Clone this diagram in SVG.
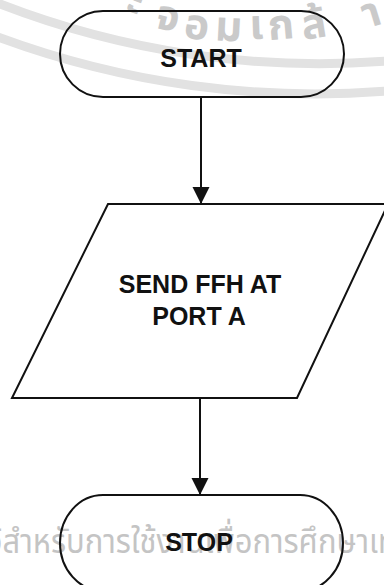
<svg xmlns="http://www.w3.org/2000/svg" width="384" height="585" viewBox="0 0 384 585">
  <style>
    .shape { fill: none; stroke: #111; stroke-width: 2; }
    .label { font-family: "Liberation Sans", Arial, sans-serif; font-weight: bold; font-size: 25px; fill: #111; text-anchor: middle; }
    .conn { stroke: #111; stroke-width: 2; fill: none; }
    .wm-band { fill: none; stroke: #e2e2e2; stroke-width: 9; }
    .wm-text { font-family: "Noto Sans Thai", "Noto Sans", "DejaVu Sans", sans-serif; fill: #c4c4c4; }
    .wm-top { font-family: "Noto Sans Thai", "Noto Sans", "DejaVu Sans", sans-serif; fill: #cacaca; font-size: 42px; font-weight: bold; text-anchor: middle; }
  </style>
  <defs>
    <marker id="arrow" markerUnits="userSpaceOnUse" markerWidth="18" markerHeight="18" refX="17" refY="8.5" orient="auto">
      <path d="M0,0 L17,8.5 L0,17 Z" fill="#111"/>
    </marker>
  </defs>
  <rect width="384" height="585" fill="#ffffff"/>

  <g id="watermark">
    <path class="wm-band" d="M-10,0 A883,883 0 0 0 400,60"/>
    <path class="wm-band" d="M-10,34 A913,913 0 0 0 400,90"/>
    <text class="wm-top" x="131" y="14" transform="rotate(20 131 14)">ะ</text>
    <text class="wm-top" x="165" y="30" transform="rotate(14 165 30)">จ</text>
    <text class="wm-top" x="195" y="39" transform="rotate(8 195 39)">อ</text>
    <text class="wm-top" x="228" y="41" transform="rotate(3 228 41)">ม</text>
    <text class="wm-top" x="257" y="39" transform="rotate(-2 257 39)">เ</text>
    <text class="wm-top" x="282" y="39" transform="rotate(-5 282 39)">ก</text>
    <text class="wm-top" x="316" y="38" transform="rotate(-9 316 38)">ล้</text>
    <text class="wm-top" x="375" y="26" transform="rotate(-17 375 26)">า</text>
    <text class="wm-text" transform="scale(0.91,1)" x="-24" y="553" font-size="34">ไว้สำหรับการใช้งานเพื่อการศึกษาเท่านั้น</text>
  </g>

  <g id="connectors">
    <line class="conn" x1="201" y1="97" x2="201" y2="204" marker-end="url(#arrow)"/>
    <line class="conn" x1="200" y1="398" x2="200" y2="495" marker-end="url(#arrow)"/>
  </g>

  <g id="start">
    <rect class="shape" x="60" y="11" width="284" height="86" rx="43" ry="43"/>
    <text class="label" x="201" y="67">START</text>
  </g>

  <g id="send">
    <polygon class="shape" points="108,204 388,204 297,398 12,398"/>
    <text class="label" x="200" y="293">SEND FFH AT</text>
    <text class="label" x="199" y="325">PORT A</text>
  </g>

  <g id="stop">
    <rect class="shape" x="60" y="495" width="283" height="96" rx="43" ry="48"/>
    <text class="label" x="199" y="551">STOP</text>
  </g>
</svg>
